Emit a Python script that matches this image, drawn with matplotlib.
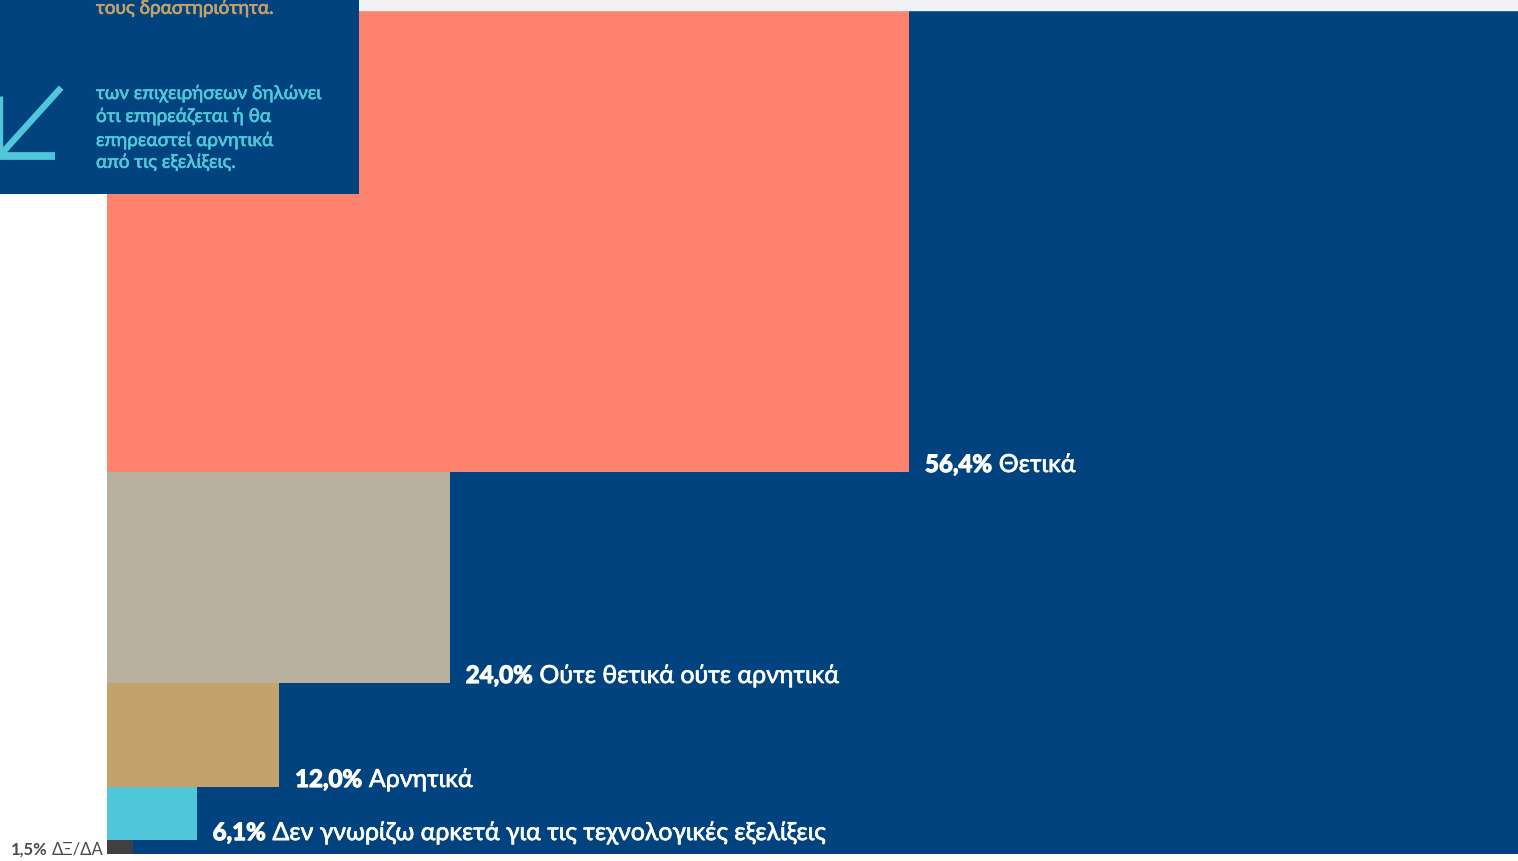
import matplotlib
matplotlib.use("Agg")
import matplotlib.pyplot as plt
from matplotlib.patches import Rectangle
import matplotlib.patheffects as pe

W, H = 1518, 862

NAVY = "#00437e"
GOLD = "#c4a26b"
CYAN = "#4fc6d9"

# from the bottom of the stack upwards
values = ["1,5%", "6,1%", "12,0%", "24,0%", "56,4%"]
names = ["ΔΞ/ΔΑ", "Δεν γνωρίζω αρκετά για τις τεχνολογικές εξελίξεις",
         "Αρνητικά", "Ούτε θετικά ούτε αρνητικά", "Θετικά"]
widths = [1.8, 6.3, 12.1, 24.1, 56.4]
heights = [1.65, 6.29, 12.32, 25.0, 54.74]
colors = ["#404040", CYAN, GOLD, "#b9b09e", "#ff826e"]

note_top = ["τους δραστηριότητα."]
note_bottom = ["των επιχειρήσεων δηλώνει", "ότι επηρεάζεται ή θα",
               "επηρεαστεί αρνητικά", "από τις εξελίξεις."]

plt.rcParams["font.family"] = ["Lato", "Noto Sans", "DejaVu Sans"]


def thicker(color, lw=0.5):
    return [pe.withStroke(linewidth=lw, foreground=color)]


fig = plt.figure(figsize=(W / 100, H / 100), dpi=100, facecolor="white")
fig.patches.append(Rectangle((359 / W, 1 - 11 / H), 1 - 359 / W, 11 / H,
                             transform=fig.transFigure, color="#f1f2f5"))

ax = fig.add_axes([107 / W, 1 - 855 / H, (W - 107) / W, 844 / H])
ax.set_facecolor(NAVY)
ax.set_xlim(0, (W - 107) / 14.22)
ax.set_ylim(0, 100)
ax.set_xticks([])
ax.set_yticks([])
for s in ax.spines.values():
    s.set_visible(False)

renderer = fig.canvas.get_renderer()
bottom = 0
for i in range(len(values)):
    ax.bar(0, heights[i], width=widths[i], bottom=bottom, align="edge", color=colors[i])
    if i == 0:
        # this one sits left of the axes, on the white
        n = ax.annotate(names[i], xy=(0, bottom), xytext=(-3, 0),
                        textcoords="offset pixels", ha="right", va="baseline",
                        fontsize=12, color="#4a4a4a")
        w = n.get_window_extent(renderer).width
        ax.annotate(values[i], xy=(0, bottom), xytext=(-3 - w - 5, 0),
                    textcoords="offset pixels", ha="right", va="baseline",
                    fontsize=12, color="#4a4a4a", fontweight="bold")
    else:
        off = 16
        t = ax.annotate(values[i], xy=(widths[i], bottom), xytext=(off, 0),
                        textcoords="offset pixels", va="baseline",
                        fontsize=17.3, color="white", fontweight="bold",
                        path_effects=thicker("white", 0.9))
        w = t.get_window_extent(renderer).width
        ax.annotate(names[i], xy=(widths[i], bottom), xytext=(off + w + 7, 0),
                    textcoords="offset pixels", va="baseline",
                    fontsize=17.9, color="white", path_effects=thicker("white"))
    bottom += heights[i]

# note box in the top left corner, laid out in pixels
box = fig.add_axes([0, 1 - 194.6 / H, 359 / W, 194.6 / H], zorder=5)
box.set_xlim(0, 359)
box.set_ylim(194.6, 0)
box.set_facecolor(NAVY)
box.set_xticks([])
box.set_yticks([])
for s in box.spines.values():
    s.set_visible(False)

box.text(96, 9.5, note_top[0], color=GOLD, fontsize=13.6, va="center",
         path_effects=thicker(GOLD))
for y, line in zip([94.5, 117.5, 141.5, 163.5], note_bottom):
    box.text(96, y, line, color=CYAN, fontsize=13.6, va="center",
             path_effects=thicker(CYAN))

box.plot([59, 3], [91, 153], color=CYAN, lw=4.6)
box.plot([0, 55], [157, 157], color=CYAN, lw=5.6, solid_capstyle="butt")
box.plot([1, 1], [97, 157], color=CYAN, lw=2.4, solid_capstyle="butt")

fig.savefig("out.png", dpi=100)
